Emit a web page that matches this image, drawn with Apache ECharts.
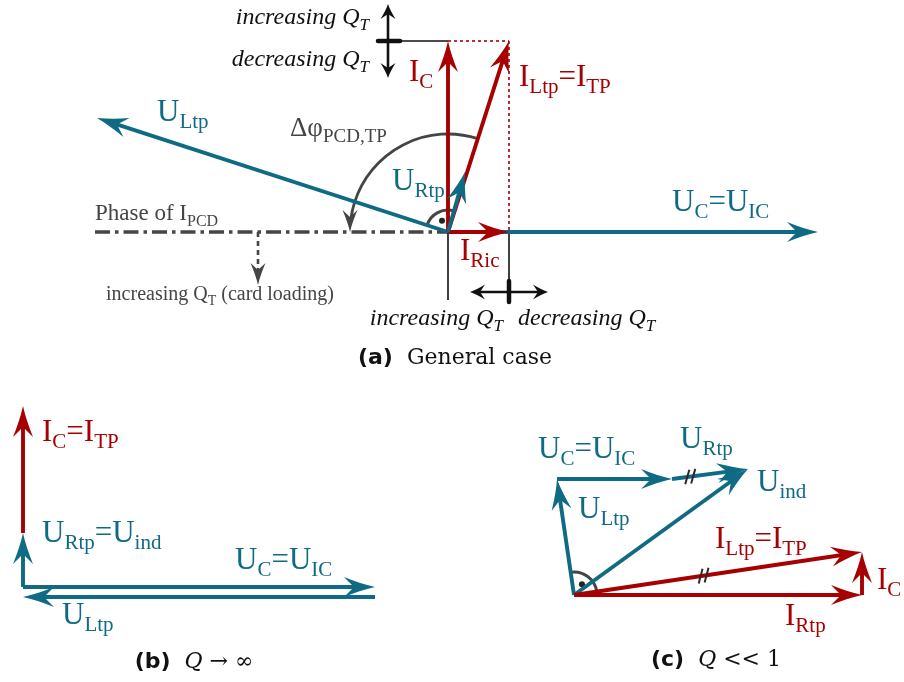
<!DOCTYPE html>
<html>
<head>
<meta charset="utf-8">
<title>Phasor diagrams</title>
<script src="https://cdn.jsdelivr.net/npm/echarts@6/dist/echarts.min.js"></script>
<style>
  html, body { margin: 0; padding: 0; background: #ffffff; }
  #chart { width: 904px; height: 682px; }
</style>
</head>
<body>
<div id="chart"></div>
<script>
// Colours
const TEAL = '#0f6a84';
const RED = '#a60000';
const GREY = '#454545';
const INK = '#111111';

// Origins of the three diagrams on the drawing plane (x right, y down)
const ORIGIN = { a: [448, 232], b: [23, 587], c: [574, 595] };

// Phasors: [name, re0, im0, re1, im1], relative to the diagram origin (im upward)
const phasorsA = [
  ['U_C',    0, 0,  370,   0],
  ['U_Ltp',  0, 0, -351, 114],
  ['I_Ric',  0, 0,   61,   0],
  ['I_C',    0, 0,    0, 191],
  ['I_TP',   0, 0,   61, 191],
  ['U_Rtp',  0, 0,   17,  60]
];
const phasorsB = [
  ['U_C',     0,   0, 352,   0],
  ['U_Ltp', 352, -10,   0, -10],
  ['U_Rtp',   0,   0,   0,  54],
  ['I_C',     0,  54,   0, 181]
];
const phasorsC = [
  ['U_Ltp',   0,   0, -17, 116],
  ['U_C',   -17, 116,  98, 116],
  ['U_Rtp',  98, 116, 174, 126],
  ['U_ind',   0,   0, 174, 126],
  ['I_Rtp',   0,   0, 288,   0],
  ['I_TP',    0,   0, 288,  43],
  ['I_C',   288,   0, 288,  43]
];

// Construction lines of diagram (a): [kind, re0, im0, re1, im1]
const guidesA = [
  ['dashdot', -353, 0, 0, 0],
  ['thin',    -71, 191, 0, 191],
  ['thin',      0,   0, 0, -68],
  ['thin',     61,   0, 61, -70],
  ['tick',    -70, 191, -48, 191],
  ['tick',     61, -49, 61, -70],
  ['dotted',    0, 191, 61, 191],
  ['dotted',   61, 191, 61, 0],
  ['both',    -60, 228, -60, 154],
  ['both',     22, -60, 100, -60],
  ['dashArrow', -190, 0, -190, -53]
];

// Text labels: [text, x, baseline, style, align]
const labelsA = [
  ['U_{Ltp}', 157, 123, 'U', 'left'],
  ['Δφ_{PCD,TP}', 290, 138, 'D', 'left'],
  ['U_{Rtp}', 392, 192, 'U', 'left'],
  ['I_{C}', 409, 83, 'I', 'left'],
  ['I_{Ltp}=I_{TP}', 519, 88, 'I', 'left'],
  ['U_{C}=U_{IC}', 672, 213, 'U', 'left'],
  ['I_{Ric}', 460, 262, 'I', 'left'],
  ['Phase of I_{PCD}', 95, 222, 'P', 'left'],
  ['increasing Q_{T} (card loading)', 220, 302, 'S', 'center'],
  ['increasing Q_{T}', 369, 26, 'Q', 'right'],
  ['decreasing Q_{T}', 369, 68, 'Q', 'right'],
  ['increasing Q_{T}', 503, 327, 'Q', 'right'],
  ['decreasing Q_{T}', 518, 327, 'Q', 'left']
];
const labelsB = [
  ['I_{C}=I_{TP}', 42, 443, 'I', 'left'],
  ['U_{Rtp}=U_{ind}', 42, 544, 'U', 'left'],
  ['U_{C}=U_{IC}', 235, 571, 'U', 'left'],
  ['U_{Ltp}', 62, 626, 'U', 'left']
];
const labelsC = [
  ['U_{C}=U_{IC}', 538, 460, 'U', 'left'],
  ['U_{Rtp}', 680, 450, 'U', 'left'],
  ['U_{ind}', 757, 493, 'U', 'left'],
  ['U_{Ltp}', 578, 520, 'U', 'left'],
  ['I_{Ltp}=I_{TP}', 715, 550, 'I', 'left'],
  ['I_{C}', 877, 591, 'I', 'left'],
  ['I_{Rtp}', 785, 627, 'I', 'left']
];

// Sub-figure captions
const captionTags = ['(a)', '(b)', '(c)'];
const captionMath = ['', 'Q', 'Q'];
const captionRest = ['General case', ' → ∞', ' << 1'];
const captionAnchor = [[455, 365], [194, 669], [716, 667]];

// ---------- geometry helpers ----------
const toPlane = (o, re, im) => [o[0] + re, o[1] - im];
const angleOf = (row) => Math.atan2(row[4] - row[2], row[3] - row[1]);
const findRow = (list, name) => list.find(r => r[0] === name);

const HEAD_MAIN = { L: 31, W: 10, notch: 21 };
const HEAD_BLACK = { L: 15, W: 7.5, notch: 10 };
const HEAD_GREY = { L: 22, W: 7.5, notch: 15 };

function headPoints(tip, d, h) {
  const nx = -d[1], ny = d[0];
  const pt = (u, v) => [tip[0] - d[0] * u + nx * v, tip[1] - d[1] * u + ny * v];
  const prof = [[0, 0], [0.25, 0.19], [0.5, 0.43], [0.75, 0.7], [1, 1]];
  const pts = prof.map(([a, b]) => pt(a * h.L, b * h.W));
  pts.push(pt(h.notch, 0));
  prof.slice().reverse().forEach(([a, b]) => { if (a > 0) pts.push(pt(a * h.L, -b * h.W)); });
  return pts;
}

function arrowGroup(p0, p1, color, lw, head, both, dash) {
  const dx = p1[0] - p0[0], dy = p1[1] - p0[1];
  const len = Math.hypot(dx, dy);
  const d = [dx / len, dy / len];
  const back = head.notch - 1;
  const s = both ? [p0[0] + d[0] * back, p0[1] + d[1] * back] : p0;
  const e = [p1[0] - d[0] * back, p1[1] - d[1] * back];
  const children = [{
    type: 'line',
    shape: { x1: s[0], y1: s[1], x2: e[0], y2: e[1] },
    style: { stroke: color, lineWidth: lw, lineDash: dash || null, fill: null }
  }, {
    type: 'polygon', shape: { points: headPoints(p1, d, head) }, style: { fill: color }
  }];
  if (both) {
    children.push({ type: 'polygon', shape: { points: headPoints(p0, [-d[0], -d[1]], head) }, style: { fill: color } });
  }
  return { type: 'group', children };
}

// ---------- series data ----------
const vecData = [], vecColor = [];
[['a', phasorsA], ['b', phasorsB], ['c', phasorsC]].forEach(([k, list]) => {
  list.forEach(([name, re0, im0, re1, im1]) => {
    const p0 = toPlane(ORIGIN[k], re0, im0), p1 = toPlane(ORIGIN[k], re1, im1);
    vecData.push([p0[0], p0[1], p1[0], p1[1]]);
    vecColor.push(name[0] === 'U' ? TEAL : RED);
  });
});

const guideData = [], guideKind = [];
guidesA.forEach(([kind, re0, im0, re1, im1]) => {
  const p0 = toPlane(ORIGIN.a, re0, im0), p1 = toPlane(ORIGIN.a, re1, im1);
  guideData.push([p0[0], p0[1], p1[0], p1[1]]);
  guideKind.push(kind);
});

// Angle marks: phase shift arc and right-angle markers
const thTP = angleOf(findRow(phasorsA, 'I_TP'));
const arcData = [
  // [cx, cy, radius, startAngle, endAngle, kind]
  [...ORIGIN.a, 98, thTP, Math.PI, 'phase'],
  [...ORIGIN.a, 22, angleOf(findRow(phasorsA, 'U_Rtp')), angleOf(findRow(phasorsA, 'U_Ltp')), 'right'],
  [...ORIGIN.c, 23, angleOf(findRow(phasorsC, 'I_TP')), angleOf(findRow(phasorsC, 'U_Ltp')), 'right']
];

// Equal-length marks ("//") on parallel phasors of diagram (c)
const slashData = [];
[['U_Rtp', 0.24], ['I_TP', 0.45]].forEach(([name, f]) => {
  const r = findRow(phasorsC, name);
  const p0 = toPlane(ORIGIN.c, r[1], r[2]), p1 = toPlane(ORIGIN.c, r[3], r[4]);
  slashData.push([p0[0] + (p1[0] - p0[0]) * f, p0[1] + (p1[1] - p0[1]) * f, p1[0] - p0[0], p1[1] - p0[1]]);
});

// ---------- text ----------
const TEXT_STYLE = {
  U: { color: TEAL, family: 'Liberation Serif', size: 31, sub: 21, italic: false },
  I: { color: RED, family: 'Liberation Serif', size: 31, sub: 21, italic: false },
  D: { color: GREY, family: 'Liberation Serif', size: 27, sub: 19, italic: false },
  P: { color: GREY, family: 'Liberation Serif', size: 23, sub: 16, italic: false },
  S: { color: GREY, family: 'Liberation Serif', size: 20, sub: 14, italic: false },
  Q: { color: INK, family: 'Liberation Serif', size: 24, sub: 17, italic: true }
};

// "X_{sub}" -> rich tokens, the subscript sitting below the main baseline
function richMarkup(src) {
  return src.split(/(_\{[^}]*\})/).filter(Boolean)
    .map(p => p.startsWith('_{') ? '{s|' + p.slice(2, -1) + '}' : '{m|' + p + '}').join('');
}
function richStyles(st) {
  const common = { fill: st.color, fontFamily: st.family, fontStyle: st.italic ? 'italic' : 'normal', verticalAlign: 'bottom' };
  const subBox = Math.round(st.size * 0.36);
  return {
    m: Object.assign({}, common, { fontSize: st.size, lineHeight: st.size, height: st.size }),
    s: Object.assign({}, common, { fontSize: st.sub, lineHeight: subBox, height: subBox })
  };
}

const labelData = [], labelInfo = [];
[...labelsA, ...labelsB, ...labelsC].forEach(([text, x, base, style, align]) => {
  labelData.push([x, base]);
  labelInfo.push({ text, style, align });
});

// ---------- chart ----------
const chart = echarts.init(document.getElementById('chart'), null, { renderer: 'canvas' });

const option = {
  animation: false,
  backgroundColor: '#ffffff',
  grid: { left: 0, right: 0, top: 0, bottom: 0 },
  xAxis: { type: 'value', min: 0, max: 904, show: false },
  yAxis: { type: 'value', min: 0, max: 682, inverse: true, show: false },
  series: [
    {
      // construction lines, dotted projections and the Q_T arrows
      type: 'custom', coordinateSystem: 'cartesian2d', clip: false, silent: true,
      data: guideData,
      renderItem(params, api) {
        const p0 = api.coord([api.value(0), api.value(1)]);
        const p1 = api.coord([api.value(2), api.value(3)]);
        const kind = guideKind[params.dataIndex];
        const line = (stroke, lw, dash, cap) => ({
          type: 'line', shape: { x1: p0[0], y1: p0[1], x2: p1[0], y2: p1[1] },
          style: { stroke, lineWidth: lw, lineDash: dash, lineCap: cap || 'butt', fill: null }
        });
        if (kind === 'dashdot') return line(GREY, 3.6, [15, 5, 3.5, 5]);
        if (kind === 'thin') return line(INK, 1.6, null);
        if (kind === 'tick') return line(INK, 4.5, null, 'round');
        if (kind === 'dotted') return line(RED, 1.6, [3, 3]);
        if (kind === 'both') return arrowGroup(p0, p1, INK, 2.6, HEAD_BLACK, true, null);
        if (kind === 'dashArrow') return arrowGroup(p0, p1, GREY, 2.6, HEAD_GREY, false, [5, 4]);
        return null;
      }
    },
    {
      // angle arcs
      type: 'custom', coordinateSystem: 'cartesian2d', clip: false, silent: true,
      data: arcData.map(r => r.slice(0, 5)),
      renderItem(params, api) {
        const c = api.coord([api.value(0), api.value(1)]);
        const r = api.value(2), a0 = api.value(3), a1 = api.value(4);
        const kind = arcData[params.dataIndex][5];
        if (kind === 'phase') {
          const h = HEAD_GREY;
          const aEnd = a1 - (h.notch - 1) / r;
          const tip = [c[0] + r * Math.cos(a1), c[1] - r * Math.sin(a1)];
          const dir = [-Math.sin(a1), -Math.cos(a1)];
          return {
            type: 'group', children: [
              { type: 'arc', shape: { cx: c[0], cy: c[1], r, startAngle: -a0, endAngle: -aEnd, clockwise: false },
                style: { stroke: GREY, lineWidth: 2.8, fill: null } },
              { type: 'polygon', shape: { points: headPoints(tip, dir, h) }, style: { fill: GREY } }
            ]
          };
        }
        const mid = (a0 + a1) / 2;
        return {
          type: 'group', children: [
            { type: 'arc', shape: { cx: c[0], cy: c[1], r, startAngle: -a0, endAngle: -a1, clockwise: false },
              style: { stroke: GREY, lineWidth: 3, fill: null } },
            { type: 'circle', shape: { cx: c[0] + r * 0.58 * Math.cos(mid), cy: c[1] - r * 0.58 * Math.sin(mid), r: 3 },
              style: { fill: '#222222' } }
          ]
        };
      }
    },
    {
      // phasor arrows
      type: 'custom', coordinateSystem: 'cartesian2d', clip: false, silent: true,
      data: vecData,
      renderItem(params, api) {
        const p0 = api.coord([api.value(0), api.value(1)]);
        const p1 = api.coord([api.value(2), api.value(3)]);
        return arrowGroup(p0, p1, vecColor[params.dataIndex], 3.9, HEAD_MAIN, false, null);
      }
    },
    {
      // "//" marks of equal phasors
      type: 'custom', coordinateSystem: 'cartesian2d', clip: false, silent: true,
      data: slashData,
      renderItem(params, api) {
        const c = api.coord([api.value(0), api.value(1)]);
        const len = Math.hypot(api.value(2), api.value(3));
        const d = [api.value(2) / len, api.value(3) / len];
        const n = [d[1], -d[0]];
        const children = [-3, 3].map(off => {
          const m = [c[0] + d[0] * off, c[1] + d[1] * off];
          return {
            type: 'line',
            shape: { x1: m[0] - n[0] * 7 - d[0] * 3, y1: m[1] - n[1] * 7 - d[1] * 3,
                     x2: m[0] + n[0] * 7 + d[0] * 3, y2: m[1] + n[1] * 7 + d[1] * 3 },
            style: { stroke: '#2a2a2a', lineWidth: 2, fill: null }
          };
        });
        return { type: 'group', children };
      }
    },
    {
      // phasor names and annotations
      type: 'custom', coordinateSystem: 'cartesian2d', clip: false, silent: true,
      data: labelData,
      renderItem(params, api) {
        const p = api.coord([api.value(0), api.value(1)]);
        const info = labelInfo[params.dataIndex];
        const st = TEXT_STYLE[info.style];
        return {
          type: 'text', x: p[0], y: p[1] - 0.84 * st.size,
          style: { text: richMarkup(info.text), rich: richStyles(st), align: info.align, verticalAlign: 'top' }
        };
      }
    },
    {
      // sub-figure captions
      type: 'custom', coordinateSystem: 'cartesian2d', clip: false, silent: true,
      data: captionAnchor,
      renderItem(params, api) {
        const i = params.dataIndex;
        const p = api.coord([api.value(0), api.value(1)]);
        const base = { fill: INK, verticalAlign: 'bottom', lineHeight: 24 };
        let text = '{b|' + captionTags[i] + '}{r|  }';
        if (captionMath[i]) text += '{q|' + captionMath[i] + '}';
        text += '{r|' + captionRest[i] + '}';
        return {
          type: 'text', x: p[0], y: p[1] - 0.84 * 24,
          style: {
            text, align: 'center', verticalAlign: 'top',
            rich: {
              b: Object.assign({}, base, { fontFamily: 'DejaVu Sans', fontWeight: 'bold', fontSize: 22 }),
              r: Object.assign({}, base, { fontFamily: 'DejaVu Serif', fontSize: 22 }),
              q: Object.assign({}, base, { fontFamily: 'DejaVu Serif', fontStyle: 'italic', fontSize: 22 })
            }
          }
        };
      }
    }
  ]
};

chart.setOption(option);
</script>
</body>
</html>
